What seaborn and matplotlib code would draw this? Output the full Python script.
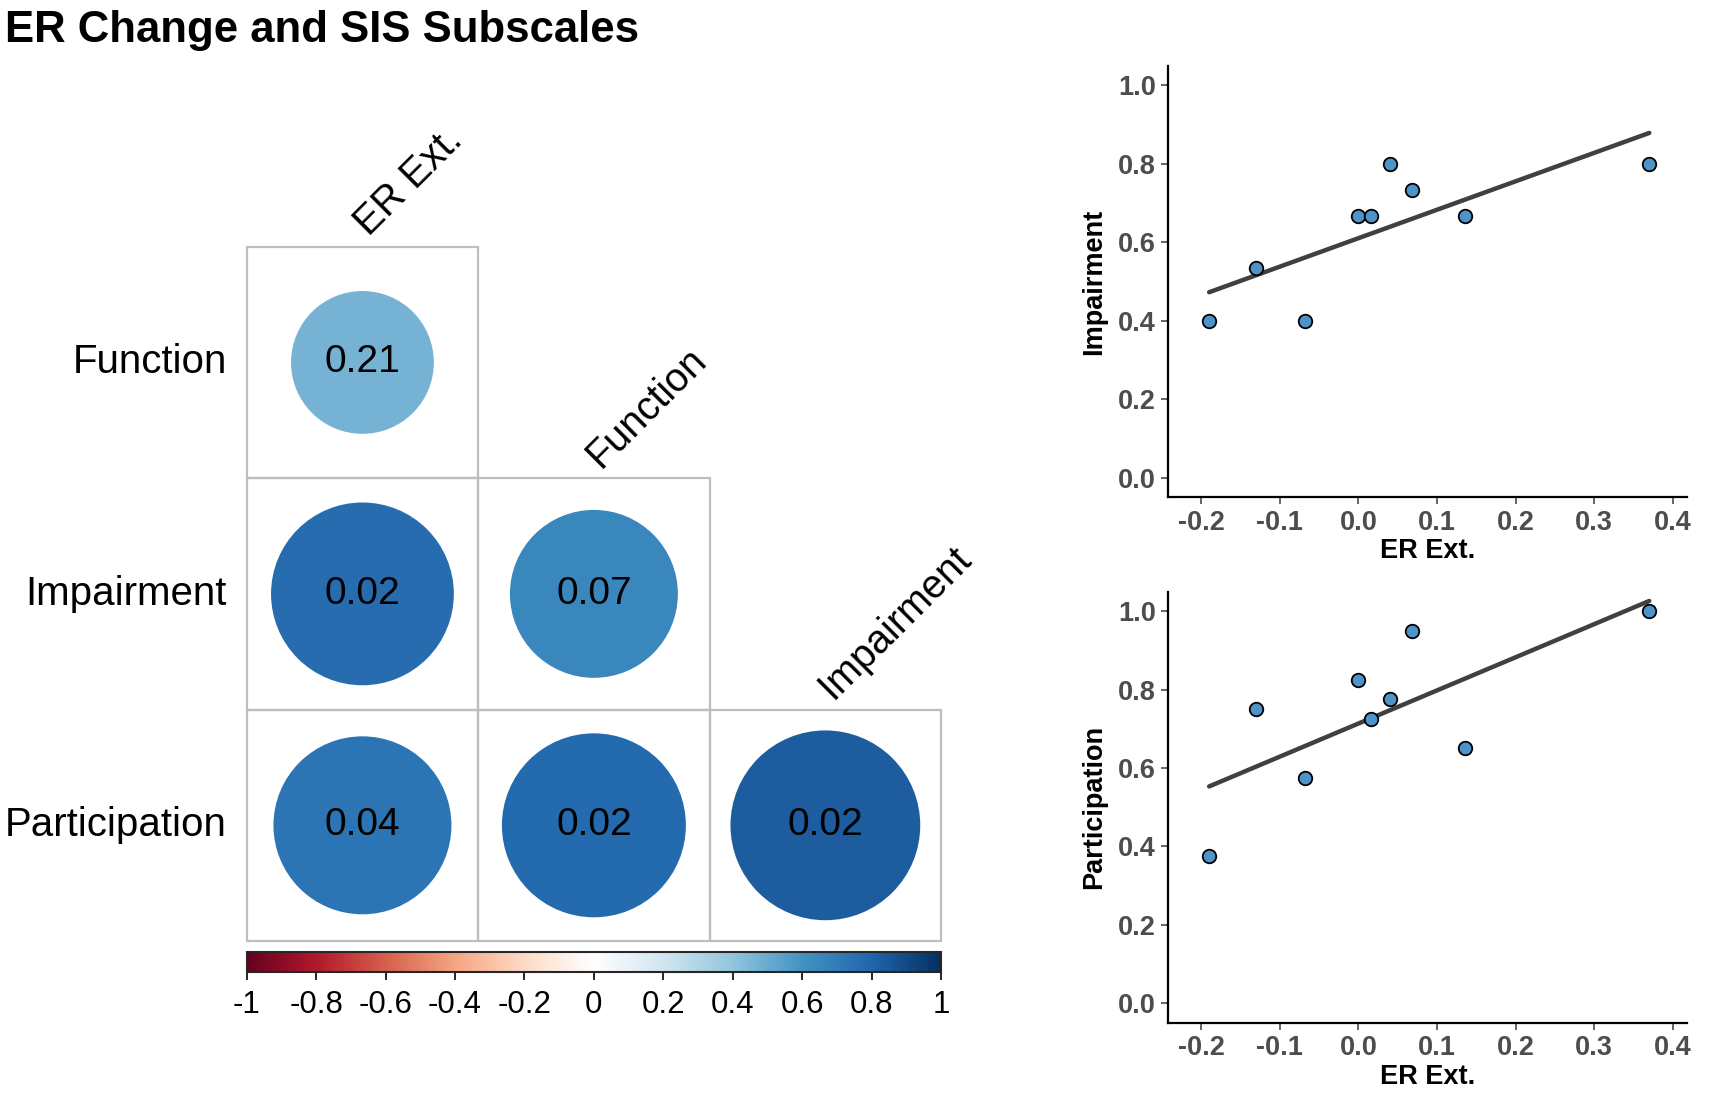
import numpy as np
import pandas as pd
import seaborn as sns
import matplotlib
matplotlib.use("Agg")
import matplotlib.pyplot as plt
from matplotlib.patches import Circle, Rectangle
from matplotlib.colors import LinearSegmentedColormap, Normalize
from matplotlib.cm import ScalarMappable

# correlation matrix (lower triangle), circles coloured by r, labelled with p
row_names = ["Function", "Impairment", "Participation"]
col_names = ["ER Ext.", "Function", "Impairment"]
r_values = [[0.47],
            [0.77, 0.65],
            [0.73, 0.78, 0.83]]
p_labels = [["0.21"],
            ["0.02", "0.07"],
            ["0.04", "0.02", "0.02"]]

# scatter data
er_ext = [-0.19, -0.13, -0.068, 0.0, 0.016, 0.04, 0.068, 0.135, 0.37]
impairment = [0.40, 0.533, 0.40, 0.667, 0.667, 0.80, 0.733, 0.667, 0.80]
participation = [0.375, 0.75, 0.575, 0.825, 0.725, 0.775, 0.95, 0.65, 1.0]

sns.set_style("white")
plt.rcParams['font.family'] = ['Liberation Sans', 'DejaVu Sans']
plt.rcParams['text.color'] = 'black'
plt.rcParams['axes.labelcolor'] = 'black'

corr_cmap = LinearSegmentedColormap.from_list(
    "corrRdBu",
    ["#67001F", "#B2182B", "#D6604D", "#F4A582", "#FDDBC7", "#FFFFFF",
     "#D1E5F0", "#92C5DE", "#4393C3", "#2166AC", "#053061"])
norm = Normalize(-1, 1)

fig = plt.figure(figsize=(17.12, 10.95), dpi=100)
fig.text(0.003, 0.972, "ER Change and SIS Subscales", fontsize=31.5,
         fontweight="bold", ha="left", va="center")

# --- correlation plot ---
ax = fig.add_axes([0.1441, 0.1406, 0.4056, 0.6341])
ax.set_xlim(0, 3)
ax.set_ylim(3, 0)
ax.axis("off")
for i, rname in enumerate(row_names):
    for j in range(i + 1):
        ax.add_patch(Rectangle((j, i), 1, 1, fill=False, edgecolor="#BEBEBE",
                               linewidth=1.6, clip_on=False))
        r = r_values[i][j]
        ax.add_patch(Circle((j + 0.5, i + 0.5), 0.45 * np.sqrt(abs(r)),
                            facecolor=corr_cmap(norm(r)), edgecolor="none"))
        ax.text(j + 0.5, i + 0.5, p_labels[i][j], fontsize=28,
                ha="center", va="center", color="black")
    ax.text(-0.085, i + 0.5, rname, fontsize=29, ha="right", va="center")
for j, cname in enumerate(col_names):
    ax.text(j + 0.53, j - 0.04, cname, fontsize=28.5, rotation=45,
            rotation_mode="anchor", ha="left", va="baseline")

cax = fig.add_axes([0.1441, 0.1127, 0.4056, 0.0179])
cb = fig.colorbar(ScalarMappable(norm=norm, cmap=corr_cmap), cax=cax,
                  orientation="horizontal")
cb.set_ticks(np.arange(-1, 1.01, 0.2))
cb.set_ticklabels(["-1", "-0.8", "-0.6", "-0.4", "-0.2", "0",
                   "0.2", "0.4", "0.6", "0.8", "1"])
cb.outline.set_linewidth(1.5)
cax.tick_params(labelsize=22.5, length=6, width=1.2, pad=7, colors="black")

# --- scatter plots ---
df = pd.DataFrame({"ER Ext.": er_ext, "Impairment": impairment,
                   "Participation": participation})
positions = [[0.6824, 0.546, 0.303, 0.394], [0.6824, 0.0658, 0.303, 0.394]]
for pos, yname in zip(positions, ["Impairment", "Participation"]):
    sax = fig.add_axes(pos)
    sns.regplot(data=df, x="ER Ext.", y=yname, ax=sax, ci=None,
                scatter_kws=dict(s=95, color="#4F94C8", edgecolor="black",
                                 linewidths=1.3, alpha=1, zorder=3),
                line_kws=dict(color="#404040", linewidth=3.2, zorder=2))
    sax.set_xlim(-0.242, 0.418)
    sax.set_ylim(-0.05, 1.05)
    sax.set_xticks(np.arange(-0.2, 0.41, 0.1))
    sax.set_xticklabels(["-0.2", "-0.1", "0.0", "0.1", "0.2", "0.3", "0.4"])
    sax.set_yticks(np.arange(0, 1.01, 0.2))
    sax.set_yticklabels(["0.0", "0.2", "0.4", "0.6", "0.8", "1.0"])
    sns.despine(ax=sax)
    for s in ["left", "bottom"]:
        sax.spines[s].set_color("black")
        sax.spines[s].set_linewidth(1.6)
    sax.tick_params(axis="both", labelsize=19.5, colors="#4D4D4D", length=5,
                    width=1.2, direction="out", left=True, bottom=True, pad=4)
    for lab in sax.get_xticklabels() + sax.get_yticklabels():
        lab.set_fontweight("bold")
    sax.set_xlabel("ER Ext.", fontsize=19.5, fontweight="bold", labelpad=2)
    sax.set_ylabel(yname, fontsize=19.5, fontweight="bold", labelpad=8)

fig.savefig("out.png", dpi=100)
